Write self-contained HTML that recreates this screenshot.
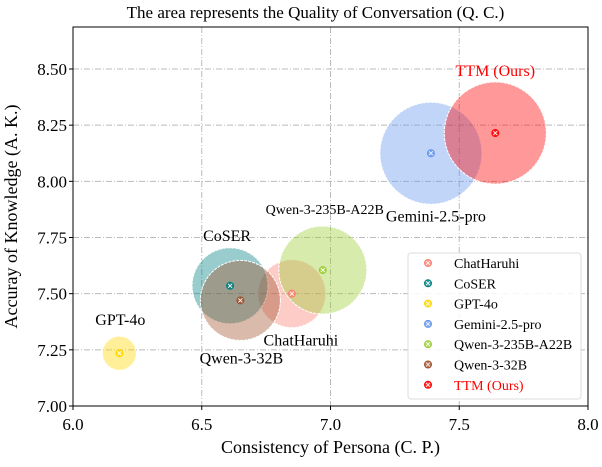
<!DOCTYPE html>
<html><head><meta charset="utf-8"><style>
body{margin:0;background:#fff;}
svg text{font-family:"Liberation Serif",serif;}
</style></head><body>
<svg id="c" width="602" height="462" xmlns="http://www.w3.org/2000/svg"></svg>
<script>
const names=["ChatHaruhi","CoSER","GPT-4o","Gemini-2.5-pro","Qwen-3-235B-A22B","Qwen-3-32B","TTM (Ours)"];
const cpValues=[6.85,6.61,6.18,7.39,6.97,6.65,7.64];
const akValues=[7.50,7.535,7.235,8.125,7.605,7.47,8.215];
const qcValues=[34,38,17,51,44,40,51];
const colors=["#fa8072","#008080","#ffd700","#6495ed","#9acd32","#a0522d","#ff0000"];
const xTicks=[6.0,6.5,7.0,7.5,8.0];
const yTicks=[7.00,7.25,7.50,7.75,8.00,8.25,8.50];
const labelOffsets=[[9,52],[-3,-45],[1,-28],[5,68],[2,-56],[1,63],[0,-57]];
const NS="http://www.w3.org/2000/svg";
const svg=document.getElementById('c');
const L=73,R=588,T=27,B=406;
const sx=v=>L+(v-6)*(R-L)/2;
const sy=v=>B-(v-7)*(B-69)/1.5;
function el(t,a,p){const e=document.createElementNS(NS,t);for(const k in a)e.setAttribute(k,a[k]);(p||svg).appendChild(e);return e;}
xTicks.forEach(v=>{const g=el('line',{x1:sx(v),x2:sx(v),y1:T,y2:B,stroke:"#bbb","stroke-dasharray":"6,2,1,2","stroke-width":1});

});
yTicks.forEach(v=>{const g=el('line',{x1:L,x2:R,y1:sy(v),y2:sy(v),stroke:"#bbb","stroke-dasharray":"6,2,1,2","stroke-width":1});

});
names.forEach((n,i)=>{const c=el('circle',{cx:sx(cpValues[i]),cy:sy(akValues[i]),r:qcValues[i],fill:colors[i],"fill-opacity":0.4,stroke:"#fff","stroke-dasharray":"3,1","stroke-width":1});

});
function marker(x,y,col,p){const g=el('g',{},p);
el('circle',{cx:x,cy:y,r:3.5,fill:col,"fill-opacity":0.8,stroke:col,"stroke-width":1},g);
el('path',{d:`M${x-2} ${y-2}L${x+2} ${y+2}M${x+2} ${y-2}L${x-2} ${y+2}`,stroke:"#fff","stroke-width":0.8},g);return g;}
names.forEach((n,i)=>{const m=marker(sx(cpValues[i]),sy(akValues[i]),colors[i]);


const t=el('text',{x:sx(cpValues[i])+labelOffsets[i][0],y:sy(akValues[i])+labelOffsets[i][1],"text-anchor":"middle","font-size":(i==4?14:16),fill:i==6?"#ff0000":"#000"});
t.textContent=n;

});
const bx=el('rect',{x:L,y:T,width:R-L,height:B-T,fill:"none",stroke:"#000","stroke-width":1});


xTicks.forEach(v=>{el('line',{x1:sx(v),x2:sx(v),y1:B,y2:B+4,stroke:"#000"});
const t=el('text',{x:sx(v),y:B+24,"text-anchor":"middle","font-size":17});t.textContent=v.toFixed(1);

});
yTicks.forEach(v=>{el('line',{x1:L-4,x2:L,y1:sy(v),y2:sy(v),stroke:"#000"});
const t=el('text',{x:L-6,y:sy(v)+6,"text-anchor":"end","font-size":17});t.textContent=v.toFixed(2);

});
let t=el('text',{x:(L+R)/2,y:453,"text-anchor":"middle","font-size":18});t.textContent="Consistency of Persona (C. P.)";


t=el('text',{x:0,y:0,"text-anchor":"middle","font-size":18,transform:`translate(17,${(T+B)/2}) rotate(-90)`});t.textContent="Accuray of Knowledge (A. K.)";


t=el('text',{x:(L+R)/2-15,y:18,"text-anchor":"middle","font-size":17});t.textContent="The area represents the Quality of Conversation (Q. C.)";


const lg=el('g',{});


el('rect',{x:408,y:253,width:173,height:146,rx:3,fill:"#fff","fill-opacity":0.85,stroke:"#ddd"},lg);
names.forEach((n,i)=>{const y=263+i*20.3;
const e=el('g',{},lg);


marker(428,y,colors[i],e);
const tx=el('text',{x:454,y:y+5,"font-size":14,fill:i==6?"#ff0000":"#000"},e);tx.textContent=n;});
</script>
</body></html>
